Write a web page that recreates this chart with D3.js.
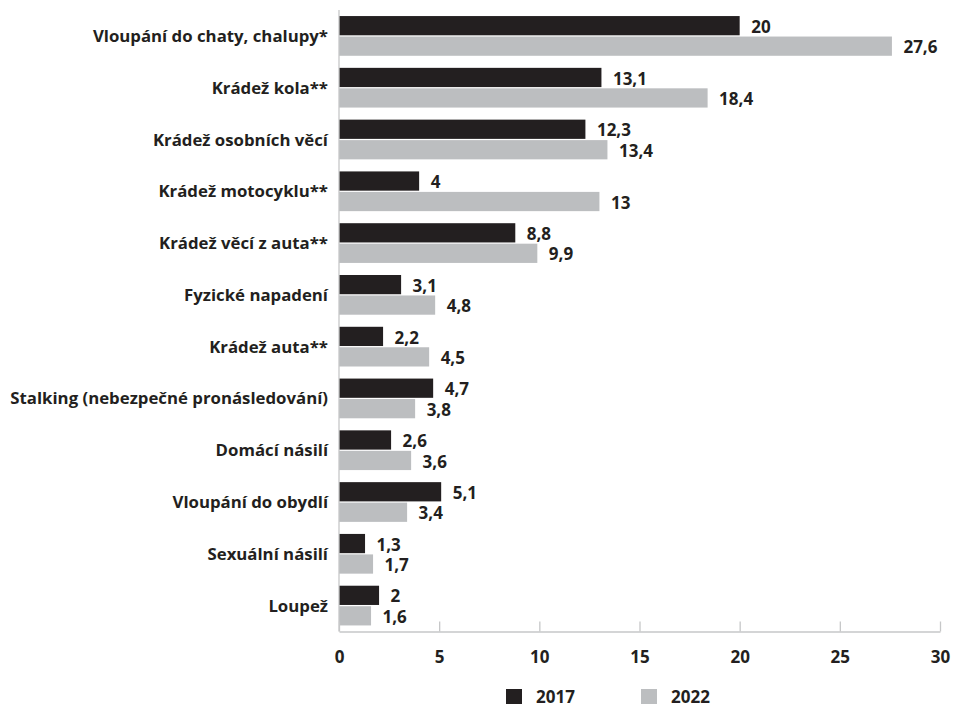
<!DOCTYPE html>
<html>
<head>
<meta charset="utf-8">
<script src="https://cdn.jsdelivr.net/npm/d3@7"></script>
<style>
  body { margin: 0; background: #fff; }
  svg text { font-family: "Open Sans", sans-serif; font-weight: 700; fill: #231f20; }
</style>
</head>
<body>
<div id="chart"></div>
<script>
var categories = [
  "Vloupání do chaty, chalupy*",
  "Krádež kola**",
  "Krádež osobních věcí",
  "Krádež motocyklu**",
  "Krádež věcí z auta**",
  "Fyzické napadení",
  "Krádež auta**",
  "Stalking (nebezpečné pronásledování)",
  "Domácí násilí",
  "Vloupání do obydlí",
  "Sexuální násilí",
  "Loupež"
];
var values2017 = [20, 13.1, 12.3, 4, 8.8, 3.1, 2.2, 4.7, 2.6, 5.1, 1.3, 2];
var values2022 = [27.6, 18.4, 13.4, 13, 9.9, 4.8, 4.5, 3.8, 3.6, 3.4, 1.7, 1.6];
var years = ["2017", "2022"];
var xTicks = [0, 5, 10, 15, 20, 25, 30];

var colors = { "2017": "#231f20", "2022": "#bcbec0" };

var svgWidth = 955;
var svgHeight = 704;
var margin = { top: 10, right: 15, bottom: 72.5, left: 339 };
var width = svgWidth - margin.left - margin.right;
var height = svgHeight - margin.top - margin.bottom;

var svg = d3.select("#chart")
  .append("svg")
  .attr("width", svgWidth)
  .attr("height", svgHeight);

var chartGroup = svg.append("g")
  .attr("transform", `translate(${margin.left}, ${margin.top})`);

var xScale = d3.scaleLinear().domain([0, 30]).range([0, width]);
var yScale = d3.scaleBand().domain(categories).range([0, height])
  .paddingInner(0.233).paddingOuter(0.117);
var subScale = d3.scaleBand().domain(years).range([0, yScale.bandwidth()]).paddingInner(0.06);

var fmt = v => String(v).replace(".", ",");

var rows = categories.map((c, i) => ({ cat: c, "2017": values2017[i], "2022": values2022[i] }));

// bars
var groups = chartGroup.selectAll(".grp")
  .data(rows)
  .enter().append("g")
  .attr("transform", d => `translate(0, ${yScale(d.cat)})`);

groups.selectAll("rect")
  .data(d => years.map(y => ({ year: y, value: d[y] })))
  .enter().append("rect")
  .attr("x", 0)
  .attr("y", d => subScale(d.year))
  .attr("width", d => xScale(d.value))
  .attr("height", subScale.bandwidth())
  .attr("fill", d => colors[d.year]);

// value labels
groups.selectAll(".val")
  .data(d => years.map(y => ({ year: y, value: d[y] })))
  .enter().append("text")
  .attr("class", "val")
  .attr("x", d => xScale(d.value) + 11.5)
  .attr("y", d => subScale(d.year) + subScale.bandwidth() / 2)
  .attr("dy", "0.42em")
  .attr("font-size", 17)
  .text(d => fmt(d.value));

// category labels
chartGroup.selectAll(".cat")
  .data(categories)
  .enter().append("text")
  .attr("class", "cat")
  .attr("x", -11)
  .attr("y", d => yScale(d) + yScale.bandwidth() / 2)
  .attr("dy", "0.36em")
  .attr("text-anchor", "end")
  .attr("font-size", 16.8)
  .text(d => d);

// y axis line
chartGroup.append("line")
  .attr("x1", 0).attr("x2", 0)
  .attr("y1", 0).attr("y2", height)
  .attr("stroke", "#c6c7c8").attr("stroke-width", 1.3);

// x axis
var xAxis = chartGroup.append("g")
  .attr("transform", `translate(0, ${height})`)
  .call(d3.axisBottom(xScale).tickValues(xTicks).tickSize(-10).tickSizeOuter(0).tickPadding(19));

xAxis.select(".domain").attr("stroke", "#c6c7c8").attr("stroke-width", 1.3);
xAxis.selectAll(".tick line").attr("stroke", "#c6c7c8").attr("stroke-width", 1.3);
xAxis.selectAll(".tick text")
  .attr("font-size", 17)
  .attr("font-family", "Open Sans, sans-serif")
  .attr("fill", "#231f20");

// legend
var legend = svg.append("g").attr("transform", "translate(506, 689)");
var legendItems = legend.selectAll("g")
  .data(years)
  .enter().append("g")
  .attr("transform", (d, i) => `translate(${i * 135}, 0)`);
legendItems.append("rect")
  .attr("width", 16).attr("height", 16)
  .attr("fill", d => colors[d]);
legendItems.append("text")
  .attr("x", 30).attr("y", 13.5)
  .attr("font-size", 17)
  .text(d => d);
</script>
</body>
</html>
